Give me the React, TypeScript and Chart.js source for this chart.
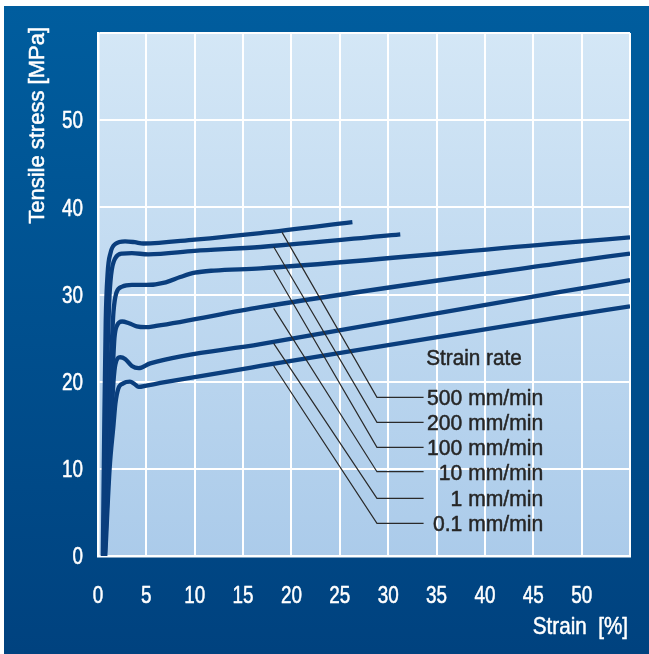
import React, { useEffect, useRef } from 'react';
import { Chart, registerables } from 'chart.js';

Chart.register(...registerables);

const W = 649;
const H = 654;

// Axis ranges and tick labels
const xTickValues = [0, 5, 10, 15, 20, 25, 30, 35, 40, 45, 50, 55];
const yTickValues = [0, 10, 20, 30, 40, 50, 60];
const xAxisTitle = 'Strain  [%]';
const yAxisTitle = 'Tensile stress [MPa]';
const legendTitle = 'Strain rate';
const rateLabels = ['500 mm/min', '200 mm/min', '100 mm/min', '10 mm/min', '1 mm/min', '0.1 mm/min'];

// Curves: strain [%] and tensile stress [MPa]
const s500Strain = [0.5, 0.65, 0.8, 1.0, 1.3, 1.8, 2.8, 3.8, 4.7, 10, 16.8, 26.3];
const s500Stress = [0, 15, 27, 32.5, 34.8, 35.8, 36.1, 36.0, 35.85, 36.3, 37.05, 38.3];

const s200Strain = [0.55, 0.8, 1.0, 1.15, 1.35, 1.8, 2.5, 3.5, 5.2, 10, 16.8, 31.25];
const s200Stress = [0, 14, 24, 29, 32.2, 34.2, 34.7, 34.75, 34.6, 35.0, 35.45, 36.9];

const s100Strain = [0.6, 0.9, 1.2, 1.45, 1.6, 1.9, 2.5, 3.5, 5, 7, 8.5, 10, 12, 16.8, 47.8, 55];
const s100Stress = [0, 12, 20, 25, 28, 30.2, 30.9, 31.1, 31.1, 31.4, 32.0, 32.5, 32.75, 33.0, 35.9, 36.55];

const s10Strain = [0.65, 1.0, 1.3, 1.55, 1.7, 1.95, 2.5, 3.2, 4.0, 4.9, 6, 16.8, 47.8, 55];
const s10Stress = [0, 10, 17, 22, 25, 26.4, 26.9, 26.7, 26.35, 26.25, 26.4, 28.55, 33.6, 34.7];

const s1Strain = [0.7, 1.1, 1.4, 1.6, 1.8, 2.3, 2.8, 3.5, 4.2, 5.4, 16.8, 47.8, 55];
const s1Stress = [0, 10, 16, 20, 22, 22.8, 22.6, 21.8, 21.55, 22.1, 24.3, 30.3, 31.65];

const s01Strain = [0.75, 1.2, 1.6, 1.8, 2.1, 2.6, 3.3, 3.8, 4.2, 5, 6.45, 16.8, 47.8, 55];
const s01Stress = [0, 10, 15, 17.5, 19.2, 19.8, 20.0, 19.7, 19.4, 19.55, 19.85, 21.8, 27.4, 28.65];

// Leader lines (data coordinates)
const leaderStartStrain = [19.03, 18.16, 18.16, 18.16, 18.16, 18.16];
const leaderStartStress = [37.13, 35.48, 32.81, 28.41, 24.4, 21.83];
const leaderElbowStrain = [28.84, 28.84, 28.84, 28.84, 28.84, 28.84];
const leaderEndStrain = [33.66, 33.66, 33.66, 33.66, 33.66, 33.66];
const leaderEndStress = [18.2, 15.34, 12.47, 9.67, 6.62, 3.75];
const labelRightStrain = 46.03;
const legendTitleStrain = 33.94;
const legendTitleStress = 22.83;

const FONT = "'Liberation Sans', Arial, sans-serif";
const CURVE_COLOR = '#0a3e7d';
const TEXT_DARK = '#262626';

const toPoints = (xs: number[], ys: number[]) => xs.map((x, i) => ({ x, y: ys[i] }));

const curves = [
  toPoints(s500Strain, s500Stress),
  toPoints(s200Strain, s200Stress),
  toPoints(s100Strain, s100Stress),
  toPoints(s10Strain, s10Stress),
  toPoints(s1Strain, s1Stress),
  toPoints(s01Strain, s01Stress),
];

const leaders = rateLabels.map((_, i) => [
  { x: leaderStartStrain[i], y: leaderStartStress[i] },
  { x: leaderElbowStrain[i], y: leaderEndStress[i] },
  { x: leaderEndStrain[i], y: leaderEndStress[i] },
]);

// draw text whose visual (cap) centre sits at y; sx = horizontal condensing factor
function drawText(
  ctx: CanvasRenderingContext2D,
  text: string,
  x: number,
  y: number,
  size: number,
  align: 'left' | 'right' | 'center',
  sx: number,
  color: string
) {
  ctx.save();
  ctx.font = `${size}px ${FONT}`;
  ctx.fillStyle = color;
  ctx.strokeStyle = color;
  ctx.lineWidth = 0.5;
  ctx.lineJoin = 'round';
  ctx.textBaseline = 'alphabetic';
  ctx.textAlign = align;
  ctx.translate(x, y + size * 0.358);
  ctx.scale(sx, 1);
  ctx.fillText(text, 0, 0);
  ctx.strokeText(text, 0, 0);
  ctx.restore();
}

const backgroundPlugin = {
  id: 'bgFrame',
  beforeDraw(chart: any) {
    const { ctx, chartArea } = chart;
    ctx.save();
    ctx.fillStyle = '#ffffff';
    ctx.fillRect(0, 0, W, H);
    const g = ctx.createLinearGradient(0, 6, 0, H);
    g.addColorStop(0, '#005d9e');
    g.addColorStop(1, '#00427f');
    ctx.fillStyle = g;
    ctx.fillRect(4, 6, W - 4, H - 6);
    const pg = ctx.createLinearGradient(0, chartArea.top, 0, chartArea.bottom);
    pg.addColorStop(0, '#d4e7f6');
    pg.addColorStop(1, '#abcbea');
    ctx.fillStyle = pg;
    ctx.fillRect(chartArea.left, chartArea.top, chartArea.right - chartArea.left, chartArea.bottom - chartArea.top);
    ctx.restore();
  },
  afterDraw(chart: any) {
    const { ctx, chartArea, scales } = chart;
    const xs = scales.x;
    const ys = scales.y;
    // tick labels from the scales
    xs.ticks.forEach((t: any) => {
      if (t.value === xTickValues[xTickValues.length - 1]) return;
      drawText(ctx, String(t.value), xs.getPixelForValue(t.value), chartArea.bottom + 39, 23, 'center', 0.82, '#ffffff');
    });
    ys.ticks.forEach((t: any) => {
      if (t.value === yTickValues[yTickValues.length - 1]) return;
      drawText(ctx, String(t.value), chartArea.left - 15, ys.getPixelForValue(t.value), 23, 'right', 0.82, '#ffffff');
    });
    // legend texts
    drawText(ctx, legendTitle, xs.getPixelForValue(legendTitleStrain), ys.getPixelForValue(legendTitleStress), 22, 'left', 0.94, TEXT_DARK);
    rateLabels.forEach((t, i) => {
      drawText(ctx, t, xs.getPixelForValue(labelRightStrain), ys.getPixelForValue(leaderEndStress[i]), 22, 'right', 0.96, TEXT_DARK);
    });
    // axis titles
    drawText(ctx, xAxisTitle, chartArea.right - 2, chartArea.bottom + 69, 24, 'right', 0.86, '#ffffff');
    ctx.save();
    ctx.translate(chartArea.left - 62, chartArea.top - 6);
    ctx.rotate(-Math.PI / 2);
    drawText(ctx, yAxisTitle, 0, 0, 22, 'right', 1.0, '#ffffff');
    ctx.restore();
  },
};

export default function App() {
  const ref = useRef<HTMLCanvasElement>(null);
  useEffect(() => {
    const canvas = ref.current!;
    const datasets: any[] = [];
    leaders.forEach((pts) => {
      datasets.push({
        data: pts,
        borderColor: '#2a2a2a',
        borderWidth: 1.2,
        pointRadius: 0,
        tension: 0,
        fill: false,
        order: 0,
      });
    });
    curves.forEach((pts, i) => {
      datasets.push({
        label: rateLabels[i],
        data: pts,
        borderColor: CURVE_COLOR,
        borderWidth: 4.3,
        pointRadius: 0,
        cubicInterpolationMode: 'monotone',
        fill: false,
        order: 1,
        borderCapStyle: 'butt',
      });
    });
    const chart = new Chart(canvas, {
      type: 'line',
      data: { datasets },
      options: {
        animation: false,
        responsive: false,
        devicePixelRatio: 1,
        layout: { padding: { left: 38, right: 19, top: 33, bottom: 38 } },
        plugins: { legend: { display: false }, tooltip: { enabled: false } },
        scales: {
          x: {
            type: 'linear',
            min: xTickValues[0],
            max: xTickValues[xTickValues.length - 1],
            afterBuildTicks: (s: any) => {
              s.ticks = xTickValues.map((v) => ({ value: v }));
            },
            afterFit: (s: any) => {
              s.height = 60;
            },
            grid: { color: '#ffffff', lineWidth: 2, drawTicks: false },
            border: { color: '#ffffff', width: 2.5 },
            ticks: { display: false },
          },
          y: {
            type: 'linear',
            min: yTickValues[0],
            max: yTickValues[yTickValues.length - 1],
            afterBuildTicks: (s: any) => {
              s.ticks = yTickValues.map((v) => ({ value: v }));
            },
            afterFit: (s: any) => {
              s.width = 60;
            },
            grid: { color: '#ffffff', lineWidth: 2, drawTicks: false },
            border: { color: '#ffffff', width: 2.5 },
            ticks: { display: false },
          },
        },
      } as any,
      plugins: [backgroundPlugin],
    });
    return () => chart.destroy();
  }, []);
  return (
    <div style={{ position: 'fixed', left: 0, top: 0, width: W, height: H }}>
      <canvas ref={ref} width={W} height={H} style={{ display: 'block', width: W, height: H }} />
    </div>
  );
}
